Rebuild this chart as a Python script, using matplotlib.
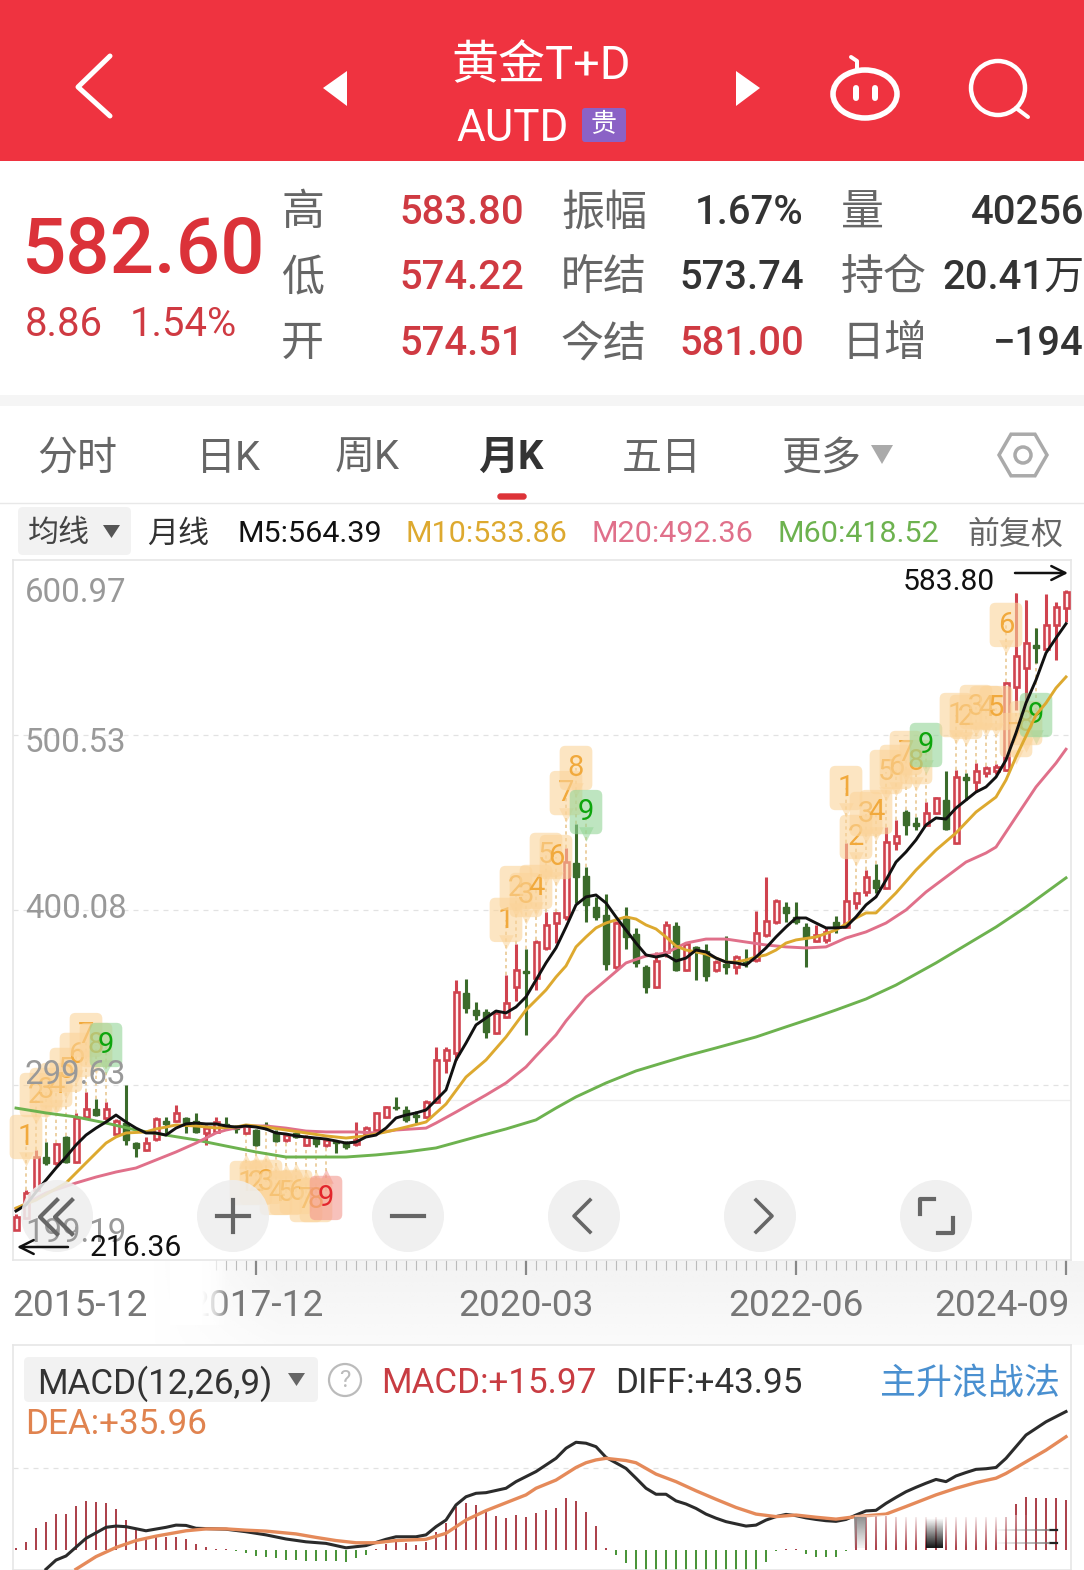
import matplotlib
matplotlib.use("Agg")
import matplotlib.pyplot as plt
import numpy as np
from matplotlib.patches import Circle, Ellipse, FancyBboxPatch, Polygon, Rectangle, RegularPolygon
from matplotlib.transforms import ScaledTranslation

plt.rcParams["font.family"] = ["Roboto", "Noto Sans CJK SC", "DejaVu Sans"]

W, H = 1084, 1570

# monthly candles, 2015-12 .. 2024-09
opens = [216.4,223.3,239.4,258.3,254.9,269.8,255.4,281.3,285.9,280.7,
         271.5,277.8,266.3,262.3,268.6,279.0,279.0,280.7,279.0,272.1,
         272.7,277.3,275.9,272.1,273.8,276.7,272.1,268.1,272.1,265.2,
         269.2,265.2,266.9,266.3,265.8,270.9,273.8,281.3,287.0,285.3,
         282.4,281.3,289.9,314.0,318.0,352.4,342.7,341.5,329.5,338.7,
         355.9,365.1,361.0,378.3,392.6,396.1,427.1,419.6,401.8,397.2,
         367.4,396.1,386.3,367.4,355.9,376.0,390.9,365.6,378.9,376.6,
         365.6,369.1,367.4,370.2,371.4,385.8,393.2,401.8,396.1,390.3,
         382.3,382.9,393.2,390.3,404.1,410.4,417.3,412.7,438.5,456.3,
         450.0,448.9,455.8,463.2,438.5,476.4,473.6,478.7,479.9,480.5,
         528.1,539.0,552.2,549.9,563.7,573.4]
closes = [223.9,237.7,258.3,254.9,265.8,255.4,280.7,285.9,282.4,285.9,
          279.0,268.1,263.4,266.3,280.1,277.3,283.6,277.8,272.7,275.0,
          278.4,275.5,274.4,275.9,265.2,275.0,267.5,270.9,269.8,269.8,
          265.8,268.1,266.3,264.0,268.1,275.0,283.6,287.0,286.5,279.6,
          281.3,289.9,314.0,319.7,353.0,343.8,339.8,330.1,341.0,346.7,
          365.6,363.9,381.7,391.5,398.4,427.6,419.0,403.0,396.1,369.1,
          392.6,384.6,369.7,355.9,370.8,391.5,365.6,380.6,376.6,362.2,
          370.2,367.4,373.1,369.7,386.9,393.8,405.3,398.4,393.2,384.0,
          385.8,387.5,390.3,405.3,409.9,419.0,412.7,439.1,442.6,448.9,
          448.3,455.8,464.4,446.6,476.4,474.7,479.9,481.6,482.2,530.4,
          545.9,553.4,550.5,563.7,574.0,582.6]
highs = [225.6,239.4,262.3,266.9,266.3,270.4,283.6,295.6,291.6,289.9,
         280.1,299.6,266.9,269.8,281.3,281.3,288.2,281.3,283.6,276.7,
         281.3,281.3,276.7,276.7,274.4,278.4,273.8,272.1,272.7,270.9,
         269.8,269.2,268.1,267.5,278.4,276.1,284.1,287.6,292.7,287.6,
         284.7,291.0,321.4,321.4,359.9,360.5,347.3,343.3,342.1,362.8,
         380.6,377.7,382.9,398.9,398.9,435.7,449.5,424.8,407.6,409.3,
         393.8,401.8,389.8,368.5,376.0,393.8,393.2,381.7,379.4,380.6,
         371.4,385.2,374.3,377.7,399.5,419.0,406.4,404.7,404.7,392.6,
         391.5,389.8,396.6,438.5,410.4,423.0,426.5,447.7,451.8,457.5,
         453.5,462.1,465.0,479.9,480.5,478.7,484.4,482.8,483.9,530.9,
         582.0,578.0,562.0,581.5,576.9,583.8]
lows = [216.36,222.7,238.8,253.7,253.7,254.8,254.8,280.7,281.8,279.6,
        270.9,265.2,258.3,261.8,267.5,270.9,278.4,272.1,272.1,265.2,
        272.1,275.0,272.1,271.5,264.6,273.8,266.9,266.9,269.2,264.6,
        264.0,264.0,260.6,262.9,264.6,269.8,273.3,280.7,285.3,278.4,
        277.8,280.7,289.3,306.5,314.0,341.0,337.0,326.6,328.9,338.1,
        347.9,328.3,354.2,377.1,381.1,394.4,404.1,393.2,394.4,365.6,
        366.2,377.7,367.4,352.4,355.3,373.1,365.1,365.1,359.9,359.3,
        364.5,363.4,363.4,367.4,370.2,384.6,392.0,393.2,392.0,367.4,
        381.7,381.1,386.9,389.8,400.7,408.1,409.9,412.1,434.5,443.2,
        446.0,448.3,455.2,446.0,438.0,463.2,467.8,476.4,478.2,479.9,
        514.9,520.6,541.9,549.3,543.6,565.4]

# moving averages
m5 = [227.3,230.8,238.2,245.1,252.0,258.3,265.2,270.9,274.9,278.4,
      282.4,278.4,274.9,272.1,272.1,270.9,274.9,277.3,277.8,277.3,
      277.3,276.1,275.5,276.1,275.5,274.4,272.1,271.5,270.4,269.8,
      269.2,268.6,267.5,266.3,266.9,269.8,270.9,274.9,280.7,282.4,
      283.6,285.3,291.0,296.8,314.0,323.7,334.1,338.1,342.1,341.0,
      344.4,350.2,359.9,369.7,378.3,390.3,403.0,407.6,408.7,404.1,
      396.1,388.6,381.1,374.3,373.1,374.3,370.8,372.5,377.1,376.0,
      372.5,370.2,369.7,368.5,373.1,378.3,384.6,390.3,395.5,395.5,
      392.6,389.8,389.8,390.3,396.1,403.0,407.6,417.3,427.6,433.4,
      440.3,448.9,452.9,452.3,458.6,463.2,467.8,470.7,476.4,486.2,
      501.7,518.9,532.1,547.6,556.2,564.39]
m10_x = [0,2,5,7,9,10,11,13,14,15,16,18,20,22,23,25,27,29,31,33,35,37,39,41,43,45,47,49,51,
         52,53,54,55,56,57,58,59,60,61,62,63,64,65,66,67,68,69,70,71,72,73,74,75,76,77,78,
         80,82,84,85,86,88,90,92,94,96,98,99,100,102,103,104,105]
m10 = [229.0,233.6,243.4,254.9,266.3,269.8,272.1,272.7,274.4,275.5,276.7,276.1,275.0,275.5,276.7,
       275.5,273.8,272.1,270.4,269.2,270.4,272.7,275.5,278.4,288.7,304.2,314.0,327.2,342.7,
       348.4,354.2,361.6,368.0,378.9,384.6,389.8,392.6,394.4,396.1,394.9,391.5,389.2,384.6,379.4,
       377.1,376.0,374.8,372.5,370.2,370.2,371.4,373.1,374.3,377.1,381.1,382.9,
       384.6,388.6,395.5,398.4,398.4,409.9,423.0,434.5,444.3,456.3,464.9,474.7,487.9,512.0,518.9,527.5,533.86]
m20_x = [0,3,6,8,10,12,14,16,18,20,21,23,25,27,29,31,34,36,38,41,42,44,47,49,51,52,54,55,57,59,
         61,63,65,67,69,71,73,75,77,79,81,83,85,87,89,91,93,95,97,98,100,102,104,105]
m20 = [228.5,237.7,243.4,246.8,249.7,252.0,256.6,261.2,266.3,272.1,273.8,276.1,276.1,274.9,273.2,
       272.7,272.7,272.1,273.8,274.9,277.8,284.1,293.9,300.8,310.0,316.3,328.4,336.4,350.2,359.9,
       369.7,373.7,375.4,381.1,383.4,383.4,381.7,380.0,378.9,378.3,378.9,384.0,387.5,392.6,400.1,
       410.4,419.0,427.6,432.8,436.2,453.5,470.7,484.4,492.36]
m60_x = [0,3,6,9,12,15,18,21,24,27,30,33,36,39,42,46,49,52,54,56,59,62,65,67,70,74,77,80,82,85,88,
         92,95,98,101,105]
m60 = [286.4,283.6,281.3,277.8,273.8,270.9,268.1,264.6,261.2,258.3,258.3,258.3,259.5,261.2,263.5,
       269.8,274.4,279.6,286.4,292.8,300.8,307.7,312.9,316.3,320.9,327.2,333.0,338.7,342.7,349.0,357.0,
       369.7,380.0,390.3,401.8,418.52]

price_ticks = [600.97, 500.53, 400.08, 299.63, 199.19]
x_tick_months = [0, 24, 51, 78, 105]
x_tick_labels = ["2015-12", "2017-12", "2020-03", "2022-06", "2024-09"]

# sequence tags: month, digit, price level of the tag
tag_months_up = [1,2,3,4,5,6,7,8,9, 49,50,51,52,53,54,55,56,57, 83,84,85,86,87,88,89,90,91,
                 94,95,96,97,98,99,100,101,102]
tag_digits_up = [1,2,3,4,5,6,7,8,9, 1,2,3,4,5,6,7,8,9, 1,2,3,4,5,6,7,8,9, 1,2,3,4,5,6,7,8,9]
tag_prices_up = [269.8,293.9,296.8,299.6,308.3,316.9,328.3,322.6,322.6,
                 394.4,412.7,408.7,413.3,431.7,430.5,467.2,481.6,456.3,
                 470.1,442.0,455.2,456.3,479.3,482.2,490.2,485.0,494.8,
                 512.0,510.9,516.6,516.0,516.0,563.7,500.5,507.4,512.0]
tag_months_down = [23,24,25,26,27,28,29,30,31]
tag_digits_down = [1,2,3,4,5,6,7,8,9]
tag_prices_down = [243.4,243.4,244.0,237.7,237.7,238.2,233.6,233.6,234.8]

# MACD panel
diff_x = [3,4,5,7,9,10,11,13,15,16,17,18,21,23,25,27,29,31,33,35,37,38,40,41,42,43,44,45,46,47,49,
          50,52,54,55,56,57,58,59,61,62,63,64,65,66,67,68,69,70,71,72,73,74,75,76,77,78,79,80,81,82,
          83,84,85,86,87,88,89,90,91,92,93,94,95,96,97,98,99,100,101,103,105]
diff = [-6.1,-3.2,-1.9,3.7,7.2,7.6,7.4,6.1,7.2,7.9,7.8,6.9,6.6,5.8,4.8,3.5,2.6,2.1,0.7,1.4,3.4,4.2,4.2,
        4.8,7.4,9.5,14.3,16.9,18.0,18.2,19.6,21.7,24.9,29.1,32.3,34.2,33.9,32.8,29.4,25.9,22.8,19.6,
        17.7,17.7,15.6,14.6,13.2,11.4,10.1,9.0,8.3,7.6,7.9,9.5,10.6,11.3,10.9,10.2,9.7,9.3,9.1,
        9.7,11.1,12.4,12.6,14.8,16.7,18.5,19.9,21.2,22.4,21.7,23.5,24.6,25.6,25.8,26.2,29.1,32.8,36.5,40.7,43.95]
dea_x = [6,8,10,12,14,17,19,21,23,25,28,30,32,34,36,38,41,43,45,47,49,51,52,54,56,57,58,59,61,62,
         64,66,68,70,72,74,76,78,80,82,84,87,89,92,94,96,98,99,101,103,105]
dea = [-6.1,-2.1,0.8,3.0,4.4,6.1,6.7,6.7,6.3,6.0,5.1,4.0,3.0,2.3,2.3,3.0,3.4,5.3,9.5,12.5,15.0,17.5,
       19.6,22.2,26.2,27.7,28.6,29.1,28.4,27.7,24.1,21.7,18.8,16.1,13.5,11.4,10.6,11.1,10.4,9.8,10.6,
       11.4,13.8,17.5,19.6,21.4,22.8,24.3,28.0,31.7,35.96]
macd = [0.5,2.6,6.9,9.0,11.4,11.3,14.0,15.6,15.3,14.8,
        12.9,9.5,6.6,4.2,4.2,4.2,4.2,3.4,1.8,0.8,
        0.4,0.2,-0.3,-0.8,-1.9,-2.1,-2.6,-3.2,-3.2,-3.4,
        -3.6,-3.4,-3.4,-3.7,-2.4,-1.6,0.2,1.9,2.6,2.1,
        1.6,2.6,5.8,8.5,13.8,15.0,14.3,12.2,10.8,10.1,
        11.1,10.6,11.6,12.7,13.2,16.4,15.7,12.0,7.6,0.5,
        -1.6,-4.2,-7.0,-8.0,-9.0,-10.0,-10.0,-9.0,-9.0,-9.0,
        -8.0,-8.0,-7.0,-7.0,-7.0,-3.7,-0.2,0.3,0.2,-1.4,
        -2.1,-2.3,-2.3,-0.3,11.1,11.1,11.1,10.9,10.6,10.6,
        10.6,10.6,10.6,10.6,10.6,10.6,10.6,10.6,10.6,10.6,
        14.6,16.9,16.4,16.4,16.4,15.97]
macd_grid = 26.0

RED_HEAD = "#EF3340"
RED_TXT = "#CF3A42"
CANDLE_RED = "#D0434F"
CANDLE_GREEN = "#3B6B2B"
GRAY_TXT = "#666666"
DARK = "#333333"
C_M10 = "#DDA92F"
C_M20 = "#E0708A"
C_M60 = "#6DB24F"


def px_axes(zorder):
    a = fig.add_axes([0, 0, 1, 1], zorder=zorder)
    a.set_xlim(0, W)
    a.set_ylim(H, 0)
    a.axis("off")
    a.patch.set_alpha(0)
    return a


def label(a, x, y, s, size, color, ha="left", weight="normal", **kw):
    # size is in image pixels, the 0.18 puts digits back on the row centre
    return a.text(x, y + size * 0.18, s, fontsize=size * 0.72, color=color, ha=ha, va="center", weight=weight, **kw)


def pline(a, xs, ys, color, lw, **kw):
    a.plot(xs, ys, color=color, lw=lw * 0.72, solid_capstyle="round", solid_joinstyle="round", **kw)


def fade(a, x0, x1, y0, y1, rgb, alpha):
    # alpha is a 2d array, first row at y0
    img = np.zeros(alpha.shape + (4,))
    img[..., :3] = matplotlib.colors.to_rgb(rgb)
    img[..., 3] = alpha
    a.imshow(img, extent=(x0, x1, y1, y0), aspect="auto", interpolation="bilinear", zorder=3)
    a.set_xlim(0, W)
    a.set_ylim(H, 0)


fig = plt.figure(figsize=(W / 100, H / 100), dpi=100, facecolor="white")
bg = px_axes(0)
top = px_axes(10)

# ---- header
bg.add_patch(Rectangle((0, 0), W, 161, fc=RED_HEAD, ec="none"))
bg.add_patch(Rectangle((0, 395), W, 11, fc="#F5F5F5", ec="none"))
label(bg, 541, 58, "黄金T+D", 47, "white", ha="center")
label(bg, 456, 121, "AUTD", 44, "white")
bg.add_patch(FancyBboxPatch((584, 110), 40, 30, boxstyle="round,pad=2,rounding_size=3", fc="#8B62C6", ec="none"))
label(bg, 604, 120, "贵", 26, "white", ha="center")
pline(bg, [110, 78, 110], [56, 87, 116], "white", 5)
bg.add_patch(Polygon([(347, 71), (347, 106), (323, 88)], fc="white", ec="none"))
bg.add_patch(Polygon([(736, 71), (736, 106), (760, 88)], fc="white", ec="none"))
bg.add_patch(Ellipse((865, 94), 64, 48, fc="none", ec="white", lw=4))
pline(bg, [857, 857, 851], [70, 61, 57], "white", 4)
pline(bg, [856, 856], [88, 98], "white", 6)
pline(bg, [875, 875], [88, 98], "white", 6)
bg.add_patch(Circle((998, 88), 27, fc="none", ec="white", lw=3.2))
pline(bg, [1016, 1028], [108, 117], "white", 4)

# ---- quote block
label(bg, 22, 237, "582.60", 78, "#DB3239", weight="medium")
label(bg, 25, 317, "8.86", 40, RED_TXT)
label(bg, 130, 317, "1.54%", 40, RED_TXT)
row_y = [206, 271, 337]
for y, name, val in zip(row_y, ["高", "低", "开"], ["583.80", "574.22", "574.51"]):
    label(bg, 281, y, name, 43, GRAY_TXT)
    label(bg, 399, y, val, 40, RED_TXT, weight="medium")
for y, name, val, col in zip(row_y, ["振幅", "昨结", "今结"], ["1.67%", "573.74", "581.00"], [DARK, DARK, RED_TXT]):
    label(bg, 561, y, name, 43, GRAY_TXT)
    label(bg, 804, y, val, 40, col, ha="right", weight="medium")
for y, name, val in zip(row_y, ["量", "持仓", "日增"], ["40256", "20.41万", "−194"]):
    label(bg, 841, y, name, 43, GRAY_TXT)
    label(bg, 1084, y, val, 40, DARK, ha="right", weight="medium")

# ---- period tabs
for x, s in [(37, "分时"), (196, "日K"), (335, "周K"), (622, "五日"), (781, "更多")]:
    label(bg, x, 451, s, 40, GRAY_TXT)
label(bg, 478, 451, "月K", 40, DARK, weight="bold")
bg.add_patch(Polygon([(871, 445), (893, 445), (882, 464)], fc="#AAAAAA", ec="none"))
bg.add_patch(RegularPolygon((1023, 455), 6, radius=24, orientation=np.pi / 2, fc="none", ec="#AAAAAA", lw=2.5))
bg.add_patch(Circle((1023, 455), 8, fc="none", ec="#AAAAAA", lw=2.5))
bg.add_patch(FancyBboxPatch((498, 494), 28, 5, boxstyle="round,pad=0,rounding_size=2.5", fc="#DD3338", ec="#DD3338", lw=1))
bg.plot([0, W], [503, 503], color="#E8E8E8", lw=1)

# ---- MA legend row
bg.add_patch(FancyBboxPatch((21, 510), 107, 42, boxstyle="round,pad=3,rounding_size=5", fc="#F2F2F2", ec="none"))
label(bg, 28, 528, "均线", 31, "#444444")
bg.add_patch(Polygon([(103, 525), (120, 525), (111.5, 538)], fc="#555555", ec="none"))
label(bg, 147, 529, "月线", 31, DARK)
label(bg, 237, 529, "M5:564.39", 30.5, "#111111")
label(bg, 406, 529, "M10:533.86", 30.5, C_M10)
label(bg, 592, 529, "M20:492.36", 30.5, C_M20)
label(bg, 778, 529, "M60:418.52", 30.5, C_M60)
label(bg, 967, 529, "前复权", 32, GRAY_TXT)

# ---- strip behind the date axis
strip = np.tile(np.linspace(0.7, 0.25, 30)[:, None], (1, 60))
strip[:, :8] = 0
strip[:, 8:16] *= np.linspace(0, 1, 8)
fade(bg, 0, W, 1261, 1345, "#EEEEEE", strip)

# ---- candle chart
ax = fig.add_axes([13 / W, 1 - 1260 / H, (1071 - 13) / W, 700 / H], zorder=2)
ax.patch.set_alpha(0)
ax.set_xlim(-0.3, 105.5)
ax.set_ylim(price_ticks[-1], price_ticks[0])
for s in ax.spines.values():
    s.set_color("#E6E6E6")
    s.set_linewidth(1.2)
ax.set_yticks([])
for p in price_ticks[1:-1]:
    ax.axhline(p, color="#E2E2E2", lw=0.9, ls=(0, (4, 4)), zorder=0)
ax.plot([43, 105.5], [291.0, 291.0], color="#EEEEEE", lw=0.9, zorder=0)

months = np.arange(len(closes))
o, h, l, c = map(np.array, (opens, highs, lows, closes))
up = c >= o
body_top = np.maximum(o, c)
body_bot = np.minimum(o, c)

# tag stems first, candles over them
up_m = np.array(tag_months_up)
dn_m = np.array(tag_months_down)
ax.vlines(up_m, h[up_m], tag_prices_up, color="#E9C893", lw=1.2, ls=(0, (2, 2)), zorder=1)
ax.vlines(dn_m, tag_prices_down, l[dn_m], color="#E9C893", lw=1.2, ls=(0, (2, 2)), zorder=1)

ax.vlines(months[up], body_top[up], h[up], color=CANDLE_RED, lw=2.2, zorder=2)
ax.vlines(months[up], l[up], body_bot[up], color=CANDLE_RED, lw=2.2, zorder=2)
ax.vlines(months[~up], l[~up], h[~up], color=CANDLE_GREEN, lw=2.2, zorder=2)
ax.bar(months[up], (body_top - body_bot)[up], bottom=body_bot[up], width=0.5,
       facecolor="#FFF3F3", edgecolor=CANDLE_RED, lw=1.9, zorder=3)
ax.bar(months[~up], (body_top - body_bot)[~up], bottom=body_bot[~up], width=0.55,
       facecolor=CANDLE_GREEN, edgecolor=CANDLE_GREEN, lw=1.0, zorder=3)


def draw_tags(tm, td, tp, pointer):
    for m, d, p in zip(tm, td, tp):
        fc, tc = "#FBD49A", "#F1A93C"
        if d == 9:
            fc, tc = ("#F3988F", "#E3262C") if pointer == "^" else ("#93D596", "#0DA50D")
        off = -12.5 if pointer == "v" else 12.5
        ax.scatter([m], [p + off], marker=pointer, s=110, color=fc, alpha=0.55, lw=0, zorder=4)
        ax.text(m, p, str(d), fontsize=21, color=tc, ha="center", va="center", zorder=5,
                bbox=dict(boxstyle="round,pad=0.28,rounding_size=0.2", fc=fc, ec="none", alpha=0.6))


draw_tags(tag_months_up, tag_digits_up, tag_prices_up, "v")
draw_tags(tag_months_down, tag_digits_down, tag_prices_down, "^")

ax.plot(m60_x, m60, color=C_M60, lw=2.1, zorder=6)
ax.plot(m20_x, m20, color=C_M20, lw=2.1, zorder=6)
ax.plot(m10_x, m10, color=C_M10, lw=2.1, zorder=6)
ax.plot(months, m5, color="#111111", lw=2.1, zorder=7)

# date axis
ax.set_xticks(x_tick_months)
ax.set_xticklabels(x_tick_labels, fontsize=37 * 0.72, color="#777777")
ax.set_xticks(np.arange(20, 106), minor=True)
ax.tick_params(axis="x", which="major", length=11, width=1.6, color="#888888", pad=9.5)
ax.tick_params(axis="x", which="minor", length=7, width=0.8, color="#BBBBBB")
ax.xaxis.get_major_ticks()[0].tick1line.set_visible(False)
tl = ax.get_xticklabels()
tl[0].set_ha("left")
tl[0].set_transform(tl[0].get_transform() + ScaledTranslation(-4 / 100, 0, fig.dpi_scale_trans))
tl[-1].set_ha("right")
tl[-1].set_transform(tl[-1].get_transform() + ScaledTranslation(4 / 100, 0, fig.dpi_scale_trans))

# ---- MACD panel
ax2 = fig.add_axes([13 / W, 0, (1071 - 13) / W, (H - 1345) / H], zorder=2)
ax2.patch.set_alpha(0)
ax2.set_xlim(-0.3, 105.5)
ax2.set_ylim(-20 / 3.15, 205 / 3.15)
ax2.set_xticks([])
ax2.set_yticks([])
for s in ax2.spines.values():
    s.set_color("#E6E6E6")
    s.set_linewidth(1.2)
ax2.axhline(macd_grid, color="#E2E2E2", lw=0.9, ls=(0, (4, 4)), zorder=0)
macd_arr = np.array(macd)
ax2.bar(months, macd_arr, width=0.26, color=np.where(macd_arr >= 0, "#AD434C", "#4B953A"), zorder=1)
ax2.plot(diff_x, diff, color="#2B2B2B", lw=2.2, zorder=3)
ax2.plot(dea_x, dea, color="#E58A5A", lw=2.4, zorder=4)

# ---- things painted over the charts
for x, s, y in [(25, "600.97", 587), (25, "500.53", 737), (25, "400.08", 903), (25, "299.63", 1069)]:
    label(top, x, y, s, 33, "#999999")

label(top, 903, 577, "583.80", 30, "#111111")
top.annotate("", xy=(1068, 573), xytext=(1015, 573),
             arrowprops=dict(arrowstyle="->,head_length=1.0,head_width=0.5", color="#111111", lw=1.8, shrinkA=0, shrinkB=0))
label(top, 25, 1227, "199.19", 33, "#999999")

for x in [57, 233, 408, 584, 760, 936]:
    top.add_patch(Circle((x, 1216), 36, fc="#EEEEEE", ec="none", alpha=0.88, zorder=2))
ICON = "#666666"
for x0 in [40, 55]:
    top.plot([x0 + 17, x0, x0 + 17], [1200, 1217, 1234], color=ICON, lw=3, zorder=4)
top.plot([233, 233], [1200, 1232], color=ICON, lw=3, zorder=4)
top.plot([217, 249], [1216, 1216], color=ICON, lw=3, zorder=4)
top.plot([392, 424], [1216, 1216], color=ICON, lw=3, zorder=4)
top.plot([590, 574, 590], [1200, 1216, 1232], color=ICON, lw=2.6, zorder=4)
top.plot([756, 772, 756], [1200, 1216, 1232], color=ICON, lw=2.6, zorder=4)
top.plot([920, 920, 934], [1214, 1199, 1199], color=ICON, lw=3, zorder=4)
top.plot([953, 953, 938], [1218, 1233, 1233], color=ICON, lw=3, zorder=4)

label(top, 90, 1243, "216.36", 30, "#111111", zorder=5)
top.annotate("", xy=(17, 1247), xytext=(68, 1247),
             arrowprops=dict(arrowstyle="->,head_length=1.0,head_width=0.5", color="#111111", lw=1.8, shrinkA=0, shrinkB=0), zorder=5)

# left part of the 2017-12 label fades out
fade_l = np.tile(np.array([1.0, 1.0, 1.0, 0.7, 0.0])[None, :], (2, 1))
fade(top, 170, 235, 1261, 1325, "white", fade_l)

# MACD header
top.add_patch(FancyBboxPatch((27, 1360), 288, 39, boxstyle="round,pad=3,rounding_size=5", fc="#F2F2F2", ec="none"))
label(top, 37, 1377, "MACD(12,26,9)", 35, DARK)
top.add_patch(Polygon([(288, 1373), (305, 1373), (296.5, 1386)], fc="#666666", ec="none"))
top.add_patch(Circle((345, 1380), 16, fc="white", ec="#BBBBBB", lw=1.6))
label(top, 345, 1376, "?", 24, "#BBBBBB", ha="center")
label(top, 381, 1377, "MACD:+15.97", 35, "#C83C42")
label(top, 615, 1377, "DIFF:+43.95", 35, DARK)
label(top, 880, 1377, "主升浪战法", 36, "#4A90D0")
label(top, 25, 1418, "DEA:+35.96", 35, "#E0834F")

# smudged-out watermark over the last bars
wm = np.tile(np.linspace(0.92, 0.0, 12)[:, None], (1, 6))
wm[:, 0] *= 0.4
wm[:, -1] = 0
fade(top, 855, 1045, 1515, 1549, "white", wm)
fade(top, 854, 866, 1517, 1548, "#888888", np.tile(np.linspace(0.9, 0.1, 12)[:, None], (1, 3)))
smudge = np.tile(np.linspace(0.0, 0.95, 12)[:, None], (1, 3))
fade(top, 926, 943, 1517, 1548, "#111111", smudge)
for y in [1530, 1543]:
    fade(top, 990, 1050, y - 1, y + 1, "#777777", np.tile(np.linspace(0, 0.7, 6)[None, :], (2, 1)))
    top.plot([1050, 1057], [y, y], color="#222222", lw=1.6)

fig.savefig("out.png", dpi=100)
